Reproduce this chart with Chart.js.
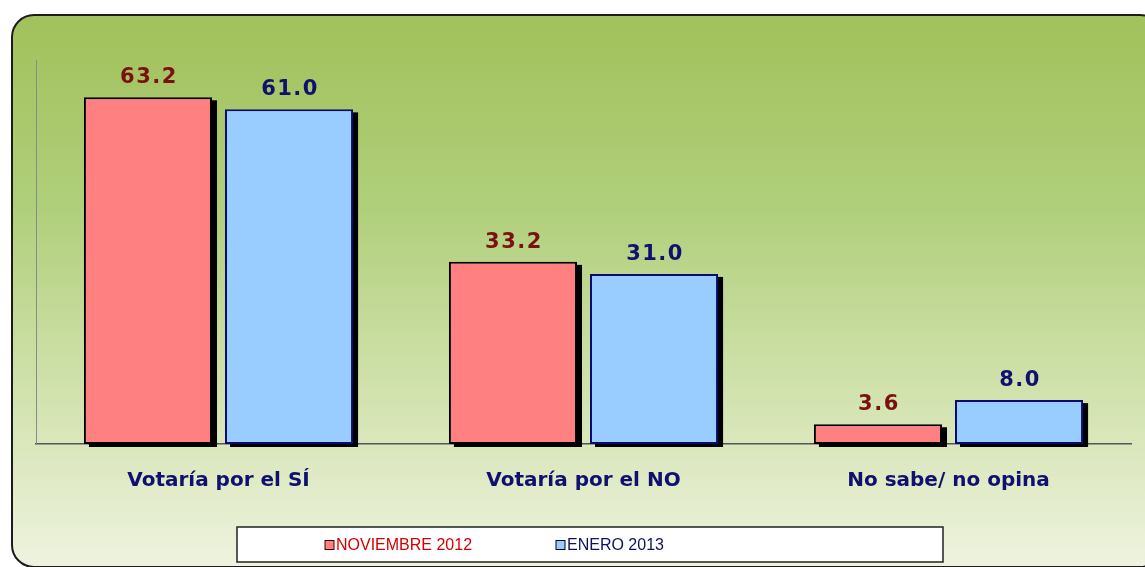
<!DOCTYPE html>
<html>
<head>
<meta charset="utf-8">
<script src="https://cdn.jsdelivr.net/npm/chart.js@4.4.1/dist/chart.umd.min.js"></script>
<style>
  html, body { margin: 0; padding: 0; background: #fff; }
  #wrap { width: 1145px; height: 567px; position: relative; }
</style>
</head>
<body>
<div id="wrap"><canvas id="chart"></canvas></div>
<script>
// data
const categories = ['Votaría por el SÍ', 'Votaría por el NO', 'No sabe/ no opina'];
const seriesNames = ['NOVIEMBRE 2012', 'ENERO 2013'];
const nov2012 = [63.2, 33.2, 3.6];
const ene2013 = [61.0, 31.0, 8.0];
const yMax = 70;

// green panel behind the plot
const panelBg = {
    id: 'panelBg',
    beforeDraw(chart) {
        const ctx = chart.ctx;
        ctx.save();
        const x = 12, y = 15, w = 1150, h = 552, r = 22;
        const g = ctx.createLinearGradient(0, y, 0, y + h);
        g.addColorStop(0, '#a1c15b');
        g.addColorStop(0.35, '#b0cf7b');
        g.addColorStop(0.7, '#d3e3b0');
        g.addColorStop(1, '#eef3df');
        ctx.beginPath();
        ctx.roundRect(x, y, w, h, r);
        ctx.fillStyle = g;
        ctx.fill();
        ctx.lineWidth = 2;
        ctx.strokeStyle = '#1c1c1c';
        ctx.stroke();
        ctx.restore();
    }
};

// black drop shadow under the bars (bar element clips its own shadow, so paint it first)
const barShadow = {
    id: 'barShadow',
    beforeDatasetsDraw(chart) {
        const ctx = chart.ctx;
        ctx.save();
        ctx.fillStyle = '#000';
        chart.data.datasets.forEach((ds, i) => {
            chart.getDatasetMeta(i).data.forEach(bar => {
                const { x, y, base, width } = bar.getProps(['x', 'y', 'base', 'width']);
                ctx.fillRect(x - width / 2 + 5, y + 3, width, base - y);
            });
        });
        ctx.restore();
    }
};

// values above the bars
const valueLabels = {
    id: 'valueLabels',
    afterDatasetsDraw(chart) {
        const ctx = chart.ctx;
        ctx.save();
        ctx.font = 'bold 21px "DejaVu Sans"';
        ctx.letterSpacing = '1.5px';
        ctx.textAlign = 'center';
        ctx.textBaseline = 'alphabetic';
        chart.data.datasets.forEach((ds, i) => {
            const meta = chart.getDatasetMeta(i);
            ctx.fillStyle = ds.labelColor;
            meta.data.forEach((bar, j) => {
                ctx.fillText(ds.data[j].toFixed(1), bar.x + 1, bar.y - 14);
            });
        });
        ctx.restore();
    }
};

// boxed legend at the bottom
const boxLegend = {
    id: 'boxLegend',
    afterDraw(chart) {
        const ctx = chart.ctx;
        const ca = chart.chartArea;
        ctx.save();
        const bx = ca.left + 201, by = 527, bw = 706, bh = 35;
        ctx.fillStyle = '#fff';
        ctx.fillRect(bx, by, bw, bh);
        ctx.lineWidth = 1.5;
        ctx.strokeStyle = '#222';
        ctx.strokeRect(bx, by, bw, bh);
        ctx.font = '16px "Liberation Sans"';
        ctx.textBaseline = 'middle';
        const starts = [bx + 88, bx + 319];
        chart.data.datasets.forEach((ds, i) => {
            const sx = starts[i];
            const cy = by + bh / 2 + 1;
            ctx.fillStyle = ds.backgroundColor;
            ctx.fillRect(sx, cy - 5, 9, 9);
            ctx.lineWidth = 1;
            ctx.strokeStyle = i === 0 ? '#400' : '#002';
            ctx.strokeRect(sx, cy - 5, 9, 9);
            ctx.fillStyle = ds.legendColor;
            ctx.fillText(ds.label, sx + 11, cy);
        });
        ctx.restore();
    }
};

new Chart(document.getElementById('chart'), {
    type: 'bar',
    data: {
        labels: categories,
        datasets: [{
            label: seriesNames[0],
            data: nov2012,
            backgroundColor: '#ff8080',
            borderColor: '#000000',
            labelColor: '#7a1010',
            legendColor: '#d40000',
            borderWidth: 2,
            borderSkipped: false,
            clip: false
        }, {
            label: seriesNames[1],
            data: ene2013,
            backgroundColor: '#99ccff',
            borderColor: '#0a0a70',
            labelColor: '#101070',
            legendColor: '#101060',
            borderWidth: 2,
            borderSkipped: false,
            clip: false
        }]
    },
    options: {
        responsive: true,
        maintainAspectRatio: false,
        animation: false,
        categoryPercentage: 0.773,
        barPercentage: 0.908,
        layout: { padding: { left: 28, right: 14, top: 60, bottom: 57 } },
        plugins: {
            legend: { display: false },
            tooltip: { enabled: false }
        },
        scales: {
            x: {
                grid: { display: false },
                border: { display: true, color: '#555', width: 1.5 },
                ticks: {
                    color: '#101070',
                    padding: 17,
                    font: { family: 'DejaVu Sans', weight: 'bold', size: 20 }
                }
            },
            y: {
                min: 0,
                max: yMax,
                grid: { display: false },
                border: { display: true, color: '#8a8a8a', width: 1 },
                ticks: { display: false }
            }
        }
    },
    plugins: [panelBg, barShadow, valueLabels, boxLegend]
});
</script>
</body>
</html>
